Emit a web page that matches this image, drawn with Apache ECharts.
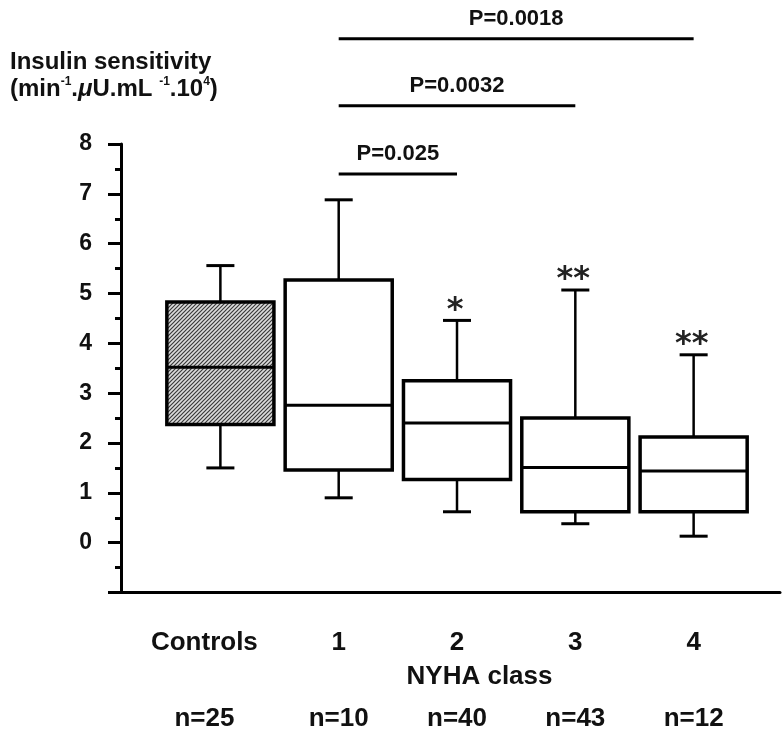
<!DOCTYPE html>
<html>
<head>
<meta charset="utf-8">
<script src="https://cdn.jsdelivr.net/npm/echarts@6/dist/echarts.min.js"></script>
<style>
  html, body { margin: 0; padding: 0; background: #fff; }
  #chart { width: 784px; height: 735px; }
</style>
</head>
<body>
<div id="chart"></div>
<script>
// Groups along the horizontal axis
const categories = ['Controls', '1', '2', '3', '4'];
const sampleSizes = ['n=25', 'n=10', 'n=40', 'n=43', 'n=12'];

// Box statistics per group: [lower whisker, Q1, median, Q3, upper whisker]
const controlsStats = [1.50, 2.37, 3.52, 4.83, 5.56];
const class1Stats   = [0.90, 1.46, 2.76, 5.27, 6.88];
const class2Stats   = [0.62, 1.27, 2.40, 3.25, 4.46];
const class3Stats   = [0.38, 0.62, 1.51, 2.50, 5.07];
const class4Stats   = [0.13, 0.62, 1.44, 2.12, 3.77];
const boxStats = [controlsStats, class1Stats, class2Stats, class3Stats, class4Stats];

// Significance marks versus controls
const significance = ['', '', '*', '**', '**'];

// Pairwise comparisons between NYHA classes (category indices)
const compFrom   = [1, 1, 1];
const compTo     = [2, 3, 4];
const compLabels = ['P=0.025', 'P=0.0032', 'P=0.0018'];

// Y axis range and tick step
const yMin = -1, yMax = 8, yStep = 1;

const FONT = '"Liberation Sans", Arial, Helvetica, sans-serif';

// Diagonal hatch pattern used for the control group box
function makeHatch() {
  const c = document.createElement('canvas');
  const s = 4;
  c.width = s; c.height = s;
  const g = c.getContext('2d');
  g.fillStyle = '#dcdcdc';
  g.fillRect(0, 0, s, s);
  g.strokeStyle = '#3a3a3a';
  g.lineWidth = 1.2;
  g.beginPath();
  g.moveTo(-1, s + 1); g.lineTo(s + 1, -1);
  g.moveTo(-1, 1); g.lineTo(1, -1);
  g.moveTo(s - 1, s + 1); g.lineTo(s + 1, s - 1);
  g.stroke();
  return c;
}
const hatch = { image: makeHatch(), repeat: 'repeat' };

// Height (in y-axis units) at which each comparison bar is drawn
const bracketLevels = [7.40, 8.77, 10.11];

const chart = echarts.init(document.getElementById('chart'), null, { renderer: 'canvas' });

function renderBox(params, api) {
  const i = api.value(0);
  const band = api.size([1, 0])[0];
  const bw = band * 0.905;
  const cw = band * 0.237;
  const p = [1, 2, 3, 4, 5].map(d => api.coord([i, api.value(d)]));
  const cx = p[0][0];
  const yLo = p[0][1], yQ1 = p[1][1], yMed = p[2][1], yQ3 = p[3][1], yHi = p[4][1];
  const black = '#000';
  return {
    type: 'group',
    children: [
      { type: 'line', shape: { x1: cx, y1: yQ3, x2: cx, y2: yHi }, style: { stroke: black, lineWidth: 2.5 } },
      { type: 'line', shape: { x1: cx - cw / 2, y1: yHi, x2: cx + cw / 2, y2: yHi }, style: { stroke: black, lineWidth: 3 } },
      { type: 'line', shape: { x1: cx, y1: yQ1, x2: cx, y2: yLo }, style: { stroke: black, lineWidth: 2.5 } },
      { type: 'line', shape: { x1: cx - cw / 2, y1: yLo, x2: cx + cw / 2, y2: yLo }, style: { stroke: black, lineWidth: 3 } },
      { type: 'rect', shape: { x: cx - bw / 2, y: yQ3, width: bw, height: yQ1 - yQ3 },
        style: { fill: i === 0 ? hatch : '#fff', stroke: black, lineWidth: 3.5 } },
      { type: 'line', shape: { x1: cx - bw / 2, y1: yMed, x2: cx + bw / 2, y2: yMed }, style: { stroke: black, lineWidth: 3 } },
      { type: 'text', x: cx - 2, y: yHi - 10,
        style: { text: significance[i], font: 'bold 32px "DejaVu Sans"', fill: '#222',
                 textAlign: 'center', textVerticalAlign: 'middle' } }
    ]
  };
}

function renderBracket(params, api) {
  const a = api.coord([api.value(0), api.value(2)]);
  const b = api.coord([api.value(1), api.value(2)]);
  return {
    type: 'group',
    children: [
      { type: 'line', shape: { x1: a[0], y1: a[1], x2: b[0], y2: b[1] }, style: { stroke: '#000', lineWidth: 3 } },
      { type: 'text', x: (a[0] + b[0]) / 2, y: a[1] - 20,
        style: { text: compLabels[params.dataIndex], font: 'bold 22px ' + FONT, fill: '#111',
                 textAlign: 'center', textVerticalAlign: 'middle' } }
    ]
  };
}

const axisBase = {
  type: 'value',
  gridIndex: 0,
  min: -0.84,
  max: 4.73,
  splitLine: { show: false },
  axisTick: { show: false }
};

const labelFont = { fontFamily: FONT, fontWeight: 'bold', fontSize: 26, color: '#111' };

const option = {
  backgroundColor: '#fff',
  animation: false,
  title: {
    left: 5,
    top: 44,
    text: '{a|Insulin sensitivity}\n{a|(min}{s|-1}{a|.}{m|μ}{a|U.mL }{s|-1}{a|.10}{s|4}{a|)}',
    textStyle: {
      rich: {
        a: { fontFamily: FONT, fontWeight: 'bold', fontSize: 24, lineHeight: 27, color: '#111' },
        m: { fontFamily: FONT, fontWeight: 'bold', fontStyle: 'italic', fontSize: 24, lineHeight: 27, color: '#111' },
        s: { fontFamily: FONT, fontWeight: 'bold', fontSize: 12, lineHeight: 27, verticalAlign: 'top', color: '#111' }
      }
    }
  },
  grid: { left: 121, right: 4, top: 144, bottom: 142.5, containLabel: false, outerBoundsMode: 'none' },
  xAxis: [
    Object.assign({}, axisBase, {
      position: 'bottom',
      axisLine: { show: true, onZero: false, lineStyle: { color: '#000', width: 3 } },
      axisLabel: Object.assign({
        customValues: [0, 1, 2, 3, 4],
        margin: 50,
        verticalAlign: 'middle',
        formatter: v => {
          const k = Math.round(v);
          return k === 0 ? '{c|' + categories[k] + '}' : categories[k];
        },
        rich: { c: Object.assign({ padding: [0, 32, 0, 0] }, labelFont) }
      }, labelFont),
      name: 'NYHA class',
      nameLocation: 'middle',
      nameGap: 84,
      nameTextStyle: Object.assign({ verticalAlign: 'middle', padding: [0, 0, 0, 58] }, labelFont)
    }),
    Object.assign({}, axisBase, {
      position: 'bottom',
      offset: 0,
      axisLine: { show: false },
      axisLabel: Object.assign({
        customValues: [0, 1, 2, 3, 4],
        margin: 126,
        verticalAlign: 'middle',
        formatter: v => {
          const k = Math.round(v);
          return k === 0 ? '{c|' + sampleSizes[k] + '}' : sampleSizes[k];
        },
        rich: { c: Object.assign({ padding: [0, 32, 0, 0] }, labelFont) }
      }, labelFont)
    })
  ],
  yAxis: {
    type: 'value',
    min: yMin,
    max: yMax,
    interval: yStep,
    splitLine: { show: false },
    axisLine: { show: true, onZero: false, lineStyle: { color: '#000', width: 3 } },
    axisTick: { show: true, length: 13, lineStyle: { color: '#000', width: 3 } },
    minorTick: { show: true, splitNumber: 2, length: 6, lineStyle: { color: '#000', width: 3 } },
    axisLabel: {
      margin: 29,
      fontFamily: FONT, fontWeight: 'bold', fontSize: 23, color: '#111',
      formatter: v => (v < 0 ? '' : String(v))
    }
  },
  series: [
    {
      type: 'custom',
      name: 'Insulin sensitivity',
      xAxisIndex: 0,
      yAxisIndex: 0,
      clip: false,
      renderItem: renderBox,
      encode: { x: 0, y: [1, 2, 3, 4, 5] },
      data: boxStats.map((s, i) => [i].concat(s))
    },
    {
      type: 'custom',
      name: 'Comparisons',
      xAxisIndex: 0,
      yAxisIndex: 0,
      clip: false,
      renderItem: renderBracket,
      encode: { x: [0, 1], y: 2 },
      data: compFrom.map((f, k) => [f, compTo[k], bracketLevels[k]])
    }
  ]
};

chart.setOption(option);
</script>
</body>
</html>
